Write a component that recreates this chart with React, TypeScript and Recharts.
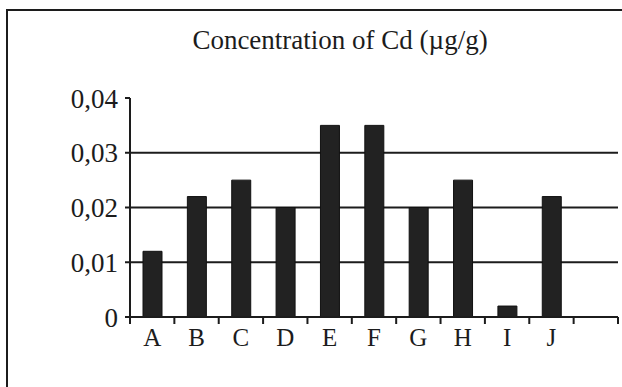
import { BarChart, Bar, XAxis, YAxis, CartesianGrid } from "recharts";

const categories = ["A", "B", "C", "D", "E", "F", "G", "H", "I", "J", ""];
const cdValues = [0.012, 0.022, 0.025, 0.02, 0.035, 0.035, 0.02, 0.025, 0.002, 0.022, null];
const yTicks = [0, 0.01, 0.02, 0.03, 0.04];
const gridValues = [0.01, 0.02, 0.03];

const data = categories.map((c, i) => ({ cat: c, cd: cdValues[i] }));

const FONT = "'Liberation Serif', 'Times New Roman', serif";
const INK = "#1c1c1c";

// tick mark at the left edge of each band, label in the middle
function CatTick(props: any) {
  const { x, y, payload, index } = props;
  const half = payload.offset || 0;
  const last = index === categories.length - 1;
  return (
    <g>
      <line x1={x - half} x2={x - half} y1={y} y2={y + 7} stroke={INK} strokeWidth={2} />
      {last && (
        <line x1={x + half} x2={x + half} y1={y} y2={y + 7} stroke={INK} strokeWidth={2} />
      )}
      <text x={x} y={y + 29} textAnchor="middle" fontSize={25} fontFamily={FONT} fill={INK}>
        {payload.value}
      </text>
    </g>
  );
}

export default function App() {
  return (
    <div
      style={{
        position: "fixed",
        left: 0,
        top: 0,
        width: 622,
        height: 387,
        overflow: "hidden",
        background: "#fff",
      }}
    >
      <div
        style={{
          position: "absolute",
          left: 6,
          top: 9,
          width: 700,
          height: 500,
          borderTop: `2px solid ${INK}`,
          borderLeft: `2px solid ${INK}`,
        }}
      />
      <div
        style={{
          position: "absolute",
          left: 130,
          width: 420,
          top: 25,
          textAlign: "center",
          fontFamily: FONT,
          fontSize: 27,
          color: INK,
        }}
      >
        Concentration of Cd (µg/g)
      </div>
      <BarChart
        width={622}
        height={387}
        data={data}
        margin={{ top: 98, right: 4, bottom: 40, left: 0 }}
        barSize={19}
        style={{ position: "absolute", left: 0, top: 0 }}
      >
        <CartesianGrid
          vertical={false}
          horizontalValues={gridValues}
          stroke={INK}
          strokeWidth={2}
          strokeDasharray=""
        />
        <XAxis
          dataKey="cat"
          height={30}
          axisLine={{ stroke: INK, strokeWidth: 2 }}
          tickLine={false}
          tickSize={0}
          tickMargin={0}
          interval={0}
          tick={<CatTick />}
        />
        <YAxis
          width={130}
          domain={[0, 0.04]}
          ticks={yTicks}
          interval={0}
          axisLine={{ stroke: INK, strokeWidth: 2 }}
          tickLine={{ stroke: INK, strokeWidth: 2 }}
          tickSize={5}
          tickMargin={7}
          tickFormatter={(v: number) => (v === 0 ? "0" : v.toFixed(2).replace(".", ","))}
          tick={{ fontSize: 27, fontFamily: FONT, fill: INK }}
        />
        <Bar dataKey="cd" fill="#222" stroke="#111" strokeWidth={1} isAnimationActive={false} />
      </BarChart>
    </div>
  );
}
